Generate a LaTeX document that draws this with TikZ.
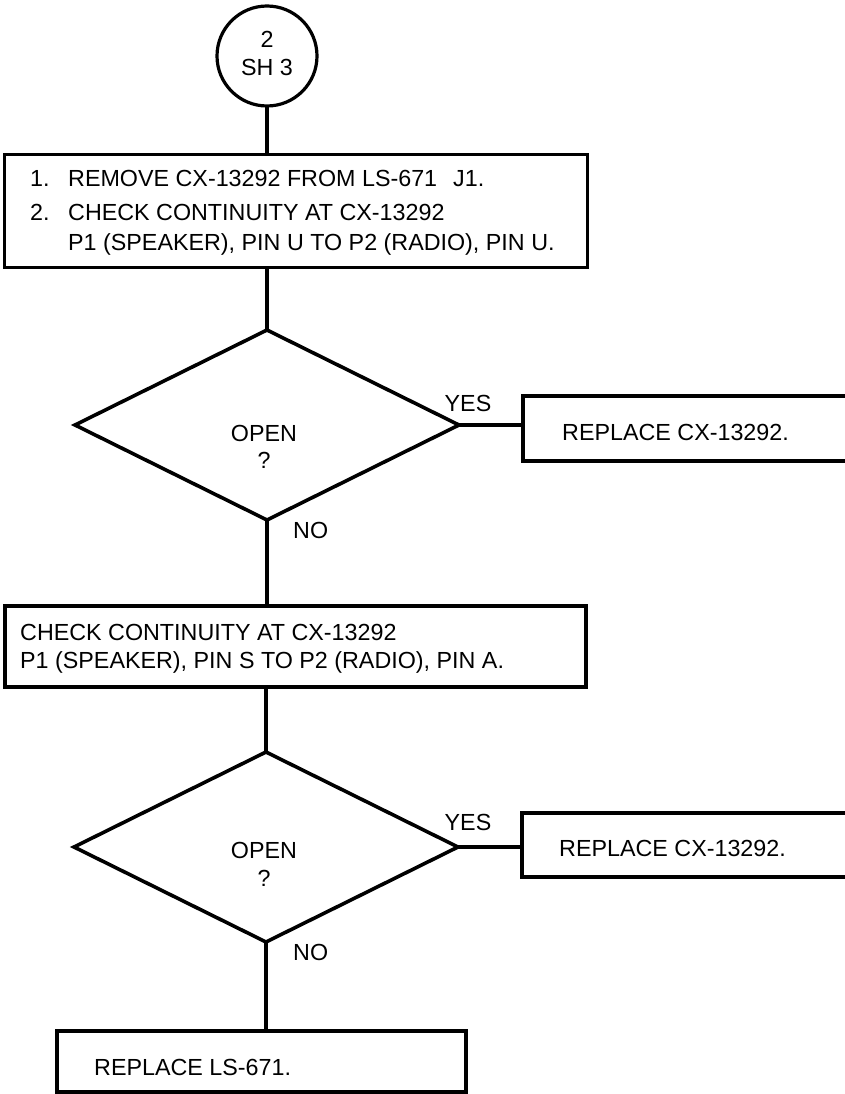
\documentclass[tikz,border=0pt]{standalone}
\usepackage{fontspec}
\setmainfont{Liberation Sans}
\usetikzlibrary{shapes.geometric}
\begin{document}
\begin{tikzpicture}[x=1pt,y=-1pt,
  every node/.style={font=\fontsize{23.3}{28}\selectfont},
  ln/.style={line width=3.6pt},
  boxn/.style={draw,line width=3.6pt,rectangle,inner sep=0pt,outer sep=0pt},
  dia/.style={draw,line width=3.6pt,diamond,inner sep=0pt,outer sep=0pt,minimum width=384pt,minimum height=190pt},
  txt/.style={anchor=base west,inner sep=0pt},
  ctxt/.style={anchor=base,inner sep=0pt}]
\useasboundingbox (0,0) rectangle (845,1094);
\clip (0,0) rectangle (845,1094);
% connector circle
\node[draw,circle,line width=3.2pt,minimum size=100pt,inner sep=0pt,outer sep=0pt] (c) at (267,56) {};
\node[ctxt] (c1) at (267,48) {2};
\node[ctxt] (c2) at (267,76) {SH 3};
% box 1
\node[boxn,minimum width=583pt,minimum height=113pt] (b1) at (296,211) {};
\node[txt] (n1) at (30,186) {1.};
\node[txt] (l1) at (68,186) {REMOVE CX-13292 FROM LS-671\hspace{16pt}J1.};
\node[txt] (n2) at (30,220) {2.};
\node[txt] (l2) at (68,220) {CHECK CONTINUITY AT CX-13292};
\node[txt] (l3) at (68,250) {P1 (SPEAKER), PIN U TO P2 (RADIO), PIN U.};
% decision 1
\node[dia] (d1) at (267,425) {};
\node[ctxt] (o1) at (264,441) {OPEN};
\node[ctxt] (q1) at (264,468) {?};
\node[ctxt] (yes1) at (468,411) {YES};
\node[txt] (no1) at (293,538) {NO};
\node[boxn,minimum width=340pt,minimum height=65pt] (y1) at (693,428.5) {};
\node[txt] (y1t) at (562,440) {REPLACE CX-13292.};
% box 2
\node[boxn,minimum width=581pt,minimum height=81pt] (b2) at (295.5,646.5) {};
\node[txt] (b2a) at (20,640) {CHECK CONTINUITY AT CX-13292};
\node[txt] (b2b) at (20,668) {P1 (SPEAKER), PIN S TO P2 (RADIO), PIN A.};
% decision 2
\node[dia] (d2) at (266,847) {};
\node[ctxt] (o2) at (264,858) {OPEN};
\node[ctxt] (q2) at (264,886) {?};
\node[ctxt] (yes2) at (468,830) {YES};
\node[txt] (no2) at (293,960) {NO};
\node[boxn,minimum width=340pt,minimum height=64pt] (y2) at (692,845) {};
\node[txt] (y2t) at (559,856) {REPLACE CX-13292.};
% box 3
\node[boxn,minimum width=409pt,minimum height=61pt] (b3) at (261.5,1061.5) {};
\node[txt] (b3t) at (94,1075) {REPLACE LS-671.};
% connectors
\draw[ln] (c.south) -- (c.south |- b1.north);
\draw[ln] (d1.north |- b1.south) -- (d1.north);
\draw[ln] (d1.east) -- (d1.east -| y1.west);
\draw[ln] (d1.south) -- (d1.south |- b2.north);
\draw[ln] (d2.north |- b2.south) -- (d2.north);
\draw[ln] (d2.east) -- (d2.east -| y2.west);
\draw[ln] (d2.south) -- (d2.south |- b3.north);
\end{tikzpicture}
\end{document}
